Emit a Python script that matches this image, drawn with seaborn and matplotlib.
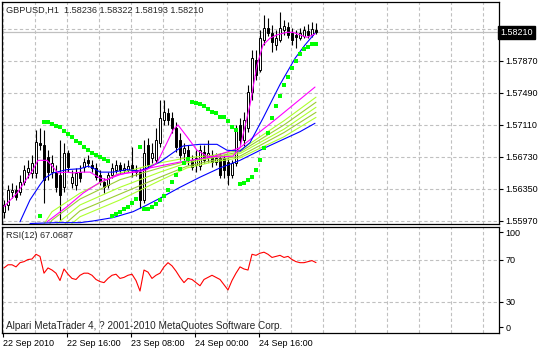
import numpy as np
import pandas as pd
import matplotlib
matplotlib.use("Agg")
import matplotlib.pyplot as plt
import matplotlib.transforms as mtransforms
import seaborn as sns

sns.set_theme(style="white")
plt.rcParams['font.family'] = ['Liberation Sans', 'DejaVu Sans']

nan = np.nan

# GBPUSD H1 bars
bar_open = [1.5608, 1.5616, 1.5631, 1.5634, 1.5631, 1.5643, 1.5655, 1.5654, 1.5654, 1.5690,
            1.5687, 1.5673, 1.5655, 1.5655, 1.5652, 1.5637, 1.5678, 1.5642, 1.5640, 1.5655,
            1.5661, 1.5669, 1.5664, 1.5660, 1.5652, 1.5643, 1.5640, 1.5652, 1.5658, 1.5664,
            1.5658, 1.5658, 1.5664, 1.5658, 1.5655, 1.5622, 1.5687, 1.5672, 1.5669, 1.5690,
            1.5717, 1.5725, 1.5719, 1.5707, 1.5693, 1.5678, 1.5681, 1.5669, 1.5664, 1.5662,
            1.5679, 1.5672, 1.5675, 1.5667, 1.5672, 1.5672, 1.5667, 1.5652, 1.5666, 1.5711,
            1.5693, 1.5707, 1.5750, 1.5788, 1.5776, 1.5812, 1.5826, 1.5820, 1.5806, 1.5812,
            1.5824, 1.5827, 1.5820, 1.5818, 1.5814, 1.5817, 1.5823, 1.5818, 1.5824]
bar_high = [1.5622, 1.5640, 1.5642, 1.5640, 1.5652, 1.5664, 1.5669, 1.5675, 1.5705, 1.5707,
            1.5705, 1.5681, 1.5675, 1.5664, 1.5693, 1.5690, 1.5681, 1.5658, 1.5660, 1.5664,
            1.5672, 1.5675, 1.5669, 1.5666, 1.5658, 1.5648, 1.5655, 1.5666, 1.5669, 1.5667,
            1.5666, 1.5669, 1.5685, 1.5664, 1.5660, 1.5693, 1.5696, 1.5690, 1.5707, 1.5741,
            1.5741, 1.5731, 1.5726, 1.5715, 1.5702, 1.5690, 1.5687, 1.5675, 1.5681, 1.5687,
            1.5687, 1.5693, 1.5681, 1.5678, 1.5678, 1.5675, 1.5672, 1.5669, 1.5711, 1.5719,
            1.5726, 1.5759, 1.5800, 1.5800, 1.5824, 1.5842, 1.5838, 1.5830, 1.5824, 1.5845,
            1.5836, 1.5833, 1.5826, 1.5824, 1.5826, 1.5828, 1.5831, 1.5833, 1.5832]
bar_low = [1.5601, 1.5610, 1.5624, 1.5622, 1.5628, 1.5640, 1.5648, 1.5648, 1.5648, 1.5681,
           1.5618, 1.5646, 1.5648, 1.5631, 1.5598, 1.5631, 1.5655, 1.5636, 1.5634, 1.5643,
           1.5655, 1.5661, 1.5655, 1.5646, 1.5640, 1.5630, 1.5636, 1.5648, 1.5654, 1.5653,
           1.5654, 1.5655, 1.5649, 1.5650, 1.5612, 1.5618, 1.5660, 1.5666, 1.5666, 1.5685,
           1.5711, 1.5711, 1.5702, 1.5679, 1.5669, 1.5669, 1.5664, 1.5658, 1.5655, 1.5658,
           1.5666, 1.5667, 1.5661, 1.5664, 1.5648, 1.5648, 1.5640, 1.5648, 1.5662, 1.5687,
           1.5686, 1.5703, 1.5741, 1.5764, 1.5774, 1.5806, 1.5817, 1.5798, 1.5800, 1.5810,
           1.5818, 1.5814, 1.5806, 1.5802, 1.5812, 1.5814, 1.5814, 1.5816, 1.5819]
bar_close = [1.5616, 1.5634, 1.5634, 1.5625, 1.5643, 1.5658, 1.5660, 1.5666, 1.5691, 1.5687,
             1.5646, 1.5655, 1.5666, 1.5637, 1.5628, 1.5678, 1.5661, 1.5649, 1.5654, 1.5648,
             1.5667, 1.5666, 1.5660, 1.5649, 1.5643, 1.5637, 1.5652, 1.5660, 1.5664, 1.5658,
             1.5660, 1.5662, 1.5658, 1.5655, 1.5622, 1.5678, 1.5664, 1.5678, 1.5693, 1.5719,
             1.5726, 1.5717, 1.5707, 1.5685, 1.5675, 1.5684, 1.5669, 1.5661, 1.5672, 1.5681,
             1.5669, 1.5678, 1.5667, 1.5672, 1.5652, 1.5658, 1.5652, 1.5666, 1.5705, 1.5693,
             1.5717, 1.5750, 1.5790, 1.5770, 1.5814, 1.5826, 1.5820, 1.5810, 1.5814, 1.5826,
             1.5828, 1.5818, 1.5812, 1.5816, 1.5820, 1.5824, 1.5818, 1.5825, 1.5821]

# parabolic SAR dots (nan = not visible)
sar = ([nan] * 9 + [1.5603] +
       [1.5715, 1.5715, 1.5712, 1.5710, 1.5709, 1.5704, 1.5700, 1.5697, 1.5692, 1.5690,
        1.5685, 1.5681, 1.5678, 1.5675, 1.5673, 1.5671, 1.5668] +
       [1.5603, 1.5605, 1.5608, 1.5611, 1.5614, 1.5618, 1.5623] +
       [1.5685] +
       [1.5611, 1.5611, 1.5614, 1.5617, 1.5622, 1.5627, 1.5634, 1.5643, 1.5652, 1.5659,
        1.5666, 1.5671] +
       [1.5738, 1.5737, 1.5736, 1.5733, 1.5730, 1.5726, 1.5725, 1.5721, 1.5720, 1.5716,
        1.5709, 1.5705] +
       [1.5641, 1.5642, 1.5646, 1.5649, 1.5658, 1.5669, 1.5684, 1.5702, 1.5719, 1.5734,
        1.5745, 1.5758, 1.5768, 1.5779, 1.5787, 1.5795, 1.5801, 1.5804, 1.5807, 1.5807])

# fast magenta MA
ma_fast_bar = [0, 3.25, 7.25, 8.5, 10.75, 12.25, 13.5, 15.75, 17.25, 19.75, 21.5, 24, 25.75,
               28.25, 30.75, 33.25, 35.75, 38.25, 40.75, 42.25, 43.5, 45.75, 48.25, 50.75,
               54, 57.25, 59, 61.5, 63.25, 64.75, 66.5, 68.25, 70.75, 72.25, 74, 75.75, 77.75]
ma_fast = [1.5614, 1.5630, 1.5658, 1.5669, 1.5669, 1.5661, 1.5654, 1.5655, 1.5654, 1.5655,
           1.5655, 1.5648, 1.5646, 1.5652, 1.5654, 1.5655, 1.5658, 1.5666, 1.5690, 1.5705,
           1.5711, 1.5697, 1.5681, 1.5674, 1.5673, 1.5674, 1.5684, 1.5735, 1.5782, 1.5806,
           1.5814, 1.5818, 1.5821, 1.5821, 1.5818, 1.5815, 1.5819]

# medium blue MA
ma_mid_bar = [4, 6.5, 9, 10.25, 12.25, 15.75, 19, 21, 22.25, 24, 27.25, 30.75, 34, 39,
              42.25, 44.75, 49, 53.25, 55.75, 59, 61.5, 64.75, 69, 72.75, 75.25, 77.75]
ma_mid = [1.5596, 1.5622, 1.5640, 1.5648, 1.5654, 1.5658, 1.5659, 1.5662, 1.5660, 1.5655,
          1.5655, 1.5658, 1.5656, 1.5667, 1.5678, 1.5686, 1.5688, 1.5688, 1.5681, 1.5680,
          1.5690, 1.5719, 1.5759, 1.5790, 1.5806, 1.5820]

# slow blue MA
ma_slow_bar = [6.5, 13, 19, 22.25, 27.25, 32.25, 35.75, 39, 44, 49, 54, 59, 65.75, 74, 77.75]
ma_slow = [1.5594, 1.5595, 1.5595, 1.5597, 1.5601, 1.5608, 1.5616, 1.5624, 1.5637, 1.5649,
           1.5660, 1.5669, 1.5685, 1.5703, 1.5713]

# slow magenta line on top of the ribbon
ma_rib_top_bar = [10.75, 15.75, 19.75, 24, 29, 36.5, 44, 52, 59, 64, 68.25, 77.75]
ma_rib_top = [1.5596, 1.5614, 1.5630, 1.5643, 1.5652, 1.5660, 1.5667, 1.5673, 1.5684,
              1.5703, 1.5719, 1.5756]

# yellow-green ribbon
ribbon_bar = [9, 12, 19, 29, 39, 45.75, 52.25, 59, 70, 78]
ribbon_1 = [1.5586, 1.5608, 1.5630, 1.5654, 1.5666, 1.5672, 1.5675, 1.5681, 1.5716, 1.5744]
ribbon_2 = [1.5574, 1.5598, 1.5623, 1.5646, 1.5660, 1.5668, 1.5673, 1.5679, 1.5711, 1.5738]
ribbon_3 = [1.5565, 1.5589, 1.5616, 1.5637, 1.5655, 1.5666, 1.5672, 1.5677, 1.5706, 1.5732]
ribbon_4 = [1.5557, 1.5580, 1.5609, 1.5629, 1.5649, 1.5662, 1.5669, 1.5674, 1.5702, 1.5726]
ribbon_5 = [1.5548, 1.5574, 1.5602, 1.5622, 1.5645, 1.5660, 1.5667, 1.5672, 1.5697, 1.5720]

# RSI(12)
rsi = [62, 65, 65, 63, 67, 68, 70, 70.5, 75, 73,
       57, 62, 60, 57, 50, 61, 56, 52, 51, 55,
       57, 57, 55, 51, 49, 48, 52, 55, 56, 52,
       53, 55, 56, 50, 40, 60, 58, 52, 55, 57,
       63, 67, 64, 59, 53, 48, 52, 51, 48, 45,
       51, 53, 55, 53, 51, 46, 41, 50, 57, 63,
       61, 60, 75, 74, 76, 77, 75, 72, 73, 74,
       72, 73, 70, 68, 67, 67, 68, 69, 67.0687]

price_ticks = [1.5597, 1.5635, 1.5673, 1.5711, 1.5749, 1.5787, 1.5825]
time_labels = ["22 Sep 2010", "22 Sep 16:00", "23 Sep 08:00", "24 Sep 00:00", "24 Sep 16:00"]

W, H = 538, 351
fig = plt.figure(figsize=(W / 100, H / 100), dpi=100)
fig.patch.set_facecolor("white")
ax1 = fig.add_axes([2 / W, 1 - 224 / H, 497 / W, 222 / H])
ax2 = fig.add_axes([2 / W, 1 - 333 / H, 497 / W, 106 / H])

grid_kw = dict(color="#c0c0c0", lw=0.8, ls=(0, (3, 2.2)), zorder=0)
vgrid = np.arange(-0.25, 121, 8)
for ax in (ax1, ax2):
    ax.set_facecolor("white")
    for v in vgrid:
        ax.axvline(v, **grid_kw)
    for s in ax.spines.values():
        s.set_color("black")
        s.set_linewidth(0.9)
    ax.set_xlim(-0.5, 123.75)
for p in price_ticks:
    ax1.axhline(p, **grid_kw)
for r in (70, 30):
    ax2.axhline(r, **grid_kw)

# current price line
ax1.axhline(bar_close[-1], color="#c0c0c0", lw=0.9, zorder=1)

# candles
idx = np.arange(len(bar_close))
df = pd.DataFrame({"i": idx, "o": bar_open, "h": bar_high, "l": bar_low, "c": bar_close})
ax1.vlines(df["i"], df["l"], df["h"], color="black", lw=0.8, zorder=2)
up = df[df["c"] >= df["o"]]
dn = df[df["c"] < df["o"]]
ax1.bar(up["i"], (up["c"] - up["o"]).clip(lower=0.00004), bottom=up["o"], width=0.6,
        color="white", edgecolor="black", linewidth=0.7, zorder=3)
ax1.bar(dn["i"], dn["c"] - dn["o"], bottom=dn["o"], width=0.6,
        color="black", edgecolor="black", linewidth=0.7, zorder=3)

# ribbon + moving averages
greens = ["#adff2f", "#9acd32", "#adff2f", "#9acd32", "#adff2f"]
for vals, col in zip([ribbon_1, ribbon_2, ribbon_3, ribbon_4, ribbon_5], greens):
    sns.lineplot(x=ribbon_bar, y=vals, ax=ax1, color=col, lw=0.8, zorder=4)
sns.lineplot(x=ma_rib_top_bar, y=ma_rib_top, ax=ax1, color="#ff00ff", lw=0.8, zorder=4)
sns.lineplot(x=ma_slow_bar, y=ma_slow, ax=ax1, color="#0000ff", lw=0.8, zorder=5)
sns.lineplot(x=ma_mid_bar, y=ma_mid, ax=ax1, color="#0000ff", lw=0.8, zorder=5)
sns.lineplot(x=ma_fast_bar, y=ma_fast, ax=ax1, color="#ff00ff", lw=0.8, zorder=5)

sar_df = pd.DataFrame({"i": idx, "sar": sar}).dropna()
sns.scatterplot(data=sar_df, x="i", y="sar", ax=ax1, color="#00ff00", marker="s", s=10,
                linewidth=0, zorder=6)

ax1.set_ylim(1.55934, 1.58570)
ax1.set_xticks([])
ax1.set_xlabel("")
ax1.set_ylabel("")
ax1.yaxis.tick_right()
ax1.set_yticks(price_ticks)
# top label sits under the current-price box, so only its tick mark shows
ax1.set_yticklabels([f"{p:.5f}" for p in price_ticks[:-1]] + [""])
ax1.tick_params(axis="y", right=True, left=False, length=3, width=0.8, pad=1.5,
                labelsize=6.5, colors="black", direction="out")

ax1.text(1.003, bar_close[-1], "1.58210", transform=mtransforms.blended_transform_factory(
    ax1.transAxes, ax1.transData), ha="left", va="center", fontsize=6.5, color="white",
    bbox=dict(boxstyle="square,pad=0.25", fc="black", ec="black"), clip_on=False, zorder=10)

# RSI panel
sns.lineplot(x=idx, y=rsi, ax=ax2, color="#ff0000", lw=0.8, zorder=3)
ax2.set_ylim(0, 101)
ax2.set_ylabel("")
ax2.yaxis.tick_right()
ax2.set_yticks([96, 70, 30, 5.5])
ax2.set_yticklabels(["100", "70", "30", "0"])
ax2.tick_params(axis="y", right=True, left=False, length=3, width=0.8, pad=1.5,
                labelsize=6.5, colors="black", direction="out")
ax2.set_xticks(np.arange(-0.25, 64, 16))
ax2.set_xticklabels(time_labels, ha="left")
ax2.tick_params(axis="x", bottom=True, length=3, width=0.8, pad=1.5, labelsize=6.5,
                colors="black", direction="out")

fig.text(6 / W, 1 - 10 / H, "GBPUSD,H1  1.58236 1.58322 1.58193 1.58210",
         fontsize=6.6, va="center", ha="left")
fig.text(6 / W, 1 - 236 / H, "RSI(12) 67.0687", fontsize=6.6, va="center", ha="left")
fig.text(6 / W, 1 - 326 / H, "Alpari MetaTrader 4, ? 2001-2010 MetaQuotes Software Corp.",
         fontsize=7.2, va="center", ha="left")

fig.savefig("out.png", dpi=100)
